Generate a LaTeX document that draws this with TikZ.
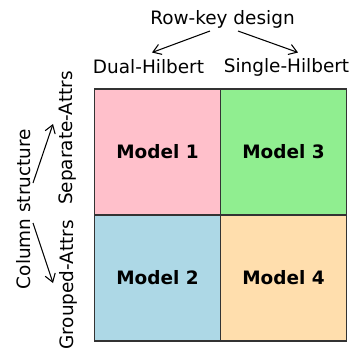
\documentclass[tikz,border=0pt]{standalone}
\usepackage{fontspec}
\setmainfont{DejaVu Sans}
\usepackage{tikz}
\usepackage{xcolor}
\usetikzlibrary{arrows.meta, positioning, calc}
\definecolor{cellpink}{HTML}{FFC0CB}
\definecolor{cellgreen}{HTML}{90EE90}
\definecolor{cellblue}{HTML}{ADD8E6}
\definecolor{cellsand}{HTML}{FFDEAD}
\definecolor{edgegray}{HTML}{333333}

\begin{document}
\begin{tikzpicture}[scale=1.0,
    font=\fontsize{10.5}{12}\selectfont,
    cell/.style={rectangle, draw=edgegray, line width=0.8pt, minimum size=2.52cm, inner sep=0pt, font=\fontsize{10.5}{12}\selectfont\bfseries},
    lbl/.style={inner sep=0pt},
    pick/.style={line width=0.6pt, -{Straight Barb[length=4.5pt, width=6pt]}}]
    \useasboundingbox (0,0) rectangle (7.06,-7.12);
    \node[cell, fill=cellpink] (m1) at (3.15,-3.04) {Model 1};
    \node[cell, fill=cellblue] (m2) at (3.15,-5.56) {Model 2};
    \node[cell, fill=cellgreen] (m3) at (5.67,-3.04) {Model 3};
    \node[cell, fill=cellsand] (m4) at (5.67,-5.56) {Model 4};
    \node[lbl] (rowkey) at (4.45,-0.38) {Row-key design};
    \node[lbl] (dual) at (2.97,-1.34) {Dual-Hilbert};
    \node[lbl] (single) at (5.73,-1.34) {Single-Hilbert};
    \node[lbl, rotate=90] (colstruct) at (0.48,-4.18) {Column structure};
    \node[lbl, rotate=90] (separate) at (1.36,-2.76) {Separate-Attrs};
    \node[lbl, rotate=90] (grouped) at (1.36,-5.70) {Grouped-Attrs};
    \coordinate (rkL) at (4.20,-0.62);
    \coordinate (rkR) at (4.76,-0.62);
    \coordinate (dualIn) at (3.04,-1.05);
    \coordinate (singleIn) at (5.96,-1.05);
    \coordinate (csU) at (0.66,-3.66);
    \coordinate (csD) at (0.66,-4.46);
    \coordinate (sepIn) at (1.06,-2.48);
    \coordinate (grpIn) at (1.06,-5.66);
    \draw[pick] (rkL) -- (dualIn);
    \draw[pick] (rkR) -- (singleIn);
    \draw[pick] (csU) -- (sepIn);
    \draw[pick] (csD) -- (grpIn);
\end{tikzpicture}
\end{document}
